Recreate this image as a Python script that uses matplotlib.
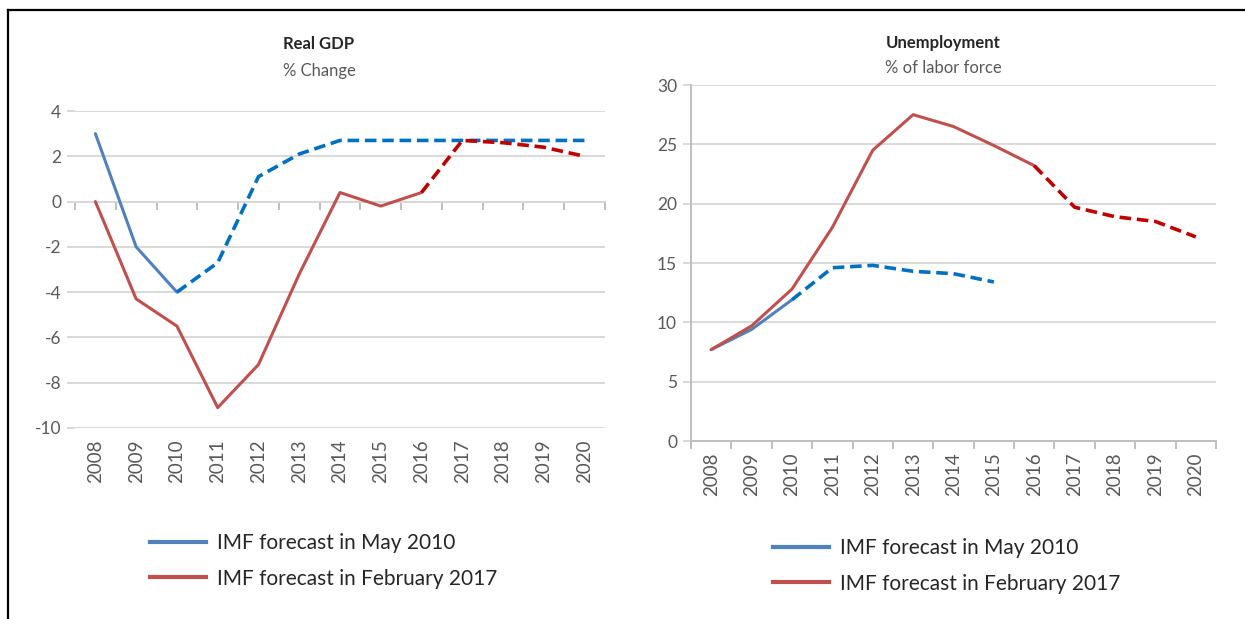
import matplotlib.pyplot as plt
from matplotlib.lines import Line2D
import numpy as np

plt.rcParams['font.family'] = ['Lato', 'DejaVu Sans']
plt.rcParams['axes.unicode_minus'] = False

years = [str(y) for y in range(2008, 2021)]

# Real GDP, % change
gdp_may2010 = [3.0, -2.0, -4.0, -2.7, 1.1, 2.1, 2.7, 2.7, 2.7, 2.7, 2.7, 2.7, 2.7]
gdp_feb2017 = [0.0, -4.3, -5.5, -9.1, -7.2, -3.2, 0.4, -0.2, 0.4, 2.7, 2.6, 2.4, 2.0]

# Unemployment, % of labor force
unemp_may2010 = [7.7, 9.4, 11.9, 14.6, 14.8, 14.3, 14.1, 13.4]
unemp_feb2017 = [7.7, 9.7, 12.8, 18.0, 24.5, 27.5, 26.5, 24.9, 23.2, 19.7, 18.9, 18.5, 17.2]

# last year of outturn data in each vintage; later years are projections
last_actual_may2010 = 2010
last_actual_feb2017 = 2016

labels = ['IMF forecast in May 2010', 'IMF forecast in February 2017']

blue, blue_dash = '#4F81BD', '#0070C0'
red, red_dash = '#C0504D', '#C00000'
grid_col = '#D9D9D9'
txt_col = '#595959'


def draw_series(ax, values, last_actual, col, col_dash):
    x = np.arange(len(values))
    k = last_actual - 2008
    ax.plot(x[:k + 1], values[:k + 1], color=col, lw=2.2, solid_capstyle='round', zorder=3)
    ax.plot(x[k:], values[k:], color=col_dash, lw=2.6, dashes=(3.2, 1.6), zorder=3)


def style_axes(ax, ymin, ymax, step):
    n = len(years)
    ax.set_xlim(-0.5, n - 0.5)
    ax.set_ylim(ymin, ymax)
    ax.set_yticks(np.arange(ymin, ymax + step, step))
    ax.grid(axis='y', color=grid_col, lw=1.4)
    ax.set_axisbelow(True)
    ax.set_xticks(np.arange(n))
    ax.set_xticklabels(years, rotation=90, fontsize=13.5, color=txt_col)
    ax.tick_params(axis='x', length=0, pad=8)
    ax.tick_params(axis='y', length=6, color=grid_col, width=1.4, labelsize=12.5,
                   labelcolor=txt_col, pad=4)
    for s in ['top', 'right']:
        ax.spines[s].set_visible(False)


fig = plt.figure(figsize=(12.45, 6.19), dpi=100)

# ---- Real GDP ----
ax1 = fig.add_axes([75 / 1245, 1 - 428 / 619, 530 / 1245, 317 / 619])
style_axes(ax1, -10, 4, 2)
ax1.spines['left'].set_visible(False)
ax1.spines['bottom'].set_visible(False)
sec = ax1.secondary_xaxis(10 / 14)
sec.set_alignment('bottom')
sec.set_xticks(np.arange(-0.5, len(years), 1))
sec.tick_params(axis='x', direction='out', length=6, color='#BFBFBF', width=1.4,
                labelbottom=False, labeltop=False)
sec.spines['bottom'].set_color('#BFBFBF')
sec.spines['bottom'].set_linewidth(1.4)
sec.spines['top'].set_visible(False)
draw_series(ax1, gdp_may2010, last_actual_may2010, blue, blue_dash)
draw_series(ax1, gdp_feb2017, last_actual_feb2017, red, red_dash)

# ---- Unemployment ----
ax2 = fig.add_axes([691 / 1245, 1 - 441 / 619, 525 / 1245, 356 / 619])
style_axes(ax2, 0, 30, 5)
for s in ['left', 'bottom']:
    ax2.spines[s].set_color('#BFBFBF')
    ax2.spines[s].set_linewidth(1.4)
ax2.set_xticks(np.arange(-0.5, len(years), 1), minor=True)
ax2.tick_params(axis='x', which='minor', direction='out', length=6, color='#BFBFBF', width=1.4)
draw_series(ax2, unemp_may2010, last_actual_may2010, blue, blue_dash)
draw_series(ax2, unemp_feb2017, last_actual_feb2017, red, red_dash)

# titles
fig.text(319 / 1245, 1 - 44 / 619, 'Real GDP', ha='center', va='center',
         fontsize=12, fontweight='bold', color='#262626')
fig.text(319 / 1245, 1 - 71 / 619, '% Change', ha='center', va='center',
         fontsize=12, color=txt_col)
fig.text(943 / 1245, 1 - 43 / 619, 'Unemployment', ha='center', va='center',
         fontsize=12, fontweight='bold', color='#262626')
fig.text(943 / 1245, 1 - 68 / 619, '% of labor force', ha='center', va='center',
         fontsize=12, color=txt_col)

# legends
handles = [Line2D([], [], color=blue, lw=3), Line2D([], [], color=red, lw=3)]
for x0, y0 in [(150, 533), (773, 538)]:
    leg = fig.legend(handles, labels, loc='upper left',
                     bbox_to_anchor=(x0 / 1245, 1 - y0 / 619), frameon=False,
                     fontsize=15, handlelength=2.7, handletextpad=0.5,
                     labelspacing=0.75, borderpad=0, borderaxespad=0)
    for t in leg.get_texts():
        t.set_color('#262626')

# outer frame (top and left edges visible in the crop)
fig.add_artist(Line2D([8 / 1245, 1.0], [1 - 10 / 619] * 2, color='black', lw=1.6,
                      transform=fig.transFigure))
fig.add_artist(Line2D([8 / 1245] * 2, [0.0, 1 - 10 / 619], color='black', lw=1.6,
                      transform=fig.transFigure))

fig.savefig('out.png', dpi=100)
